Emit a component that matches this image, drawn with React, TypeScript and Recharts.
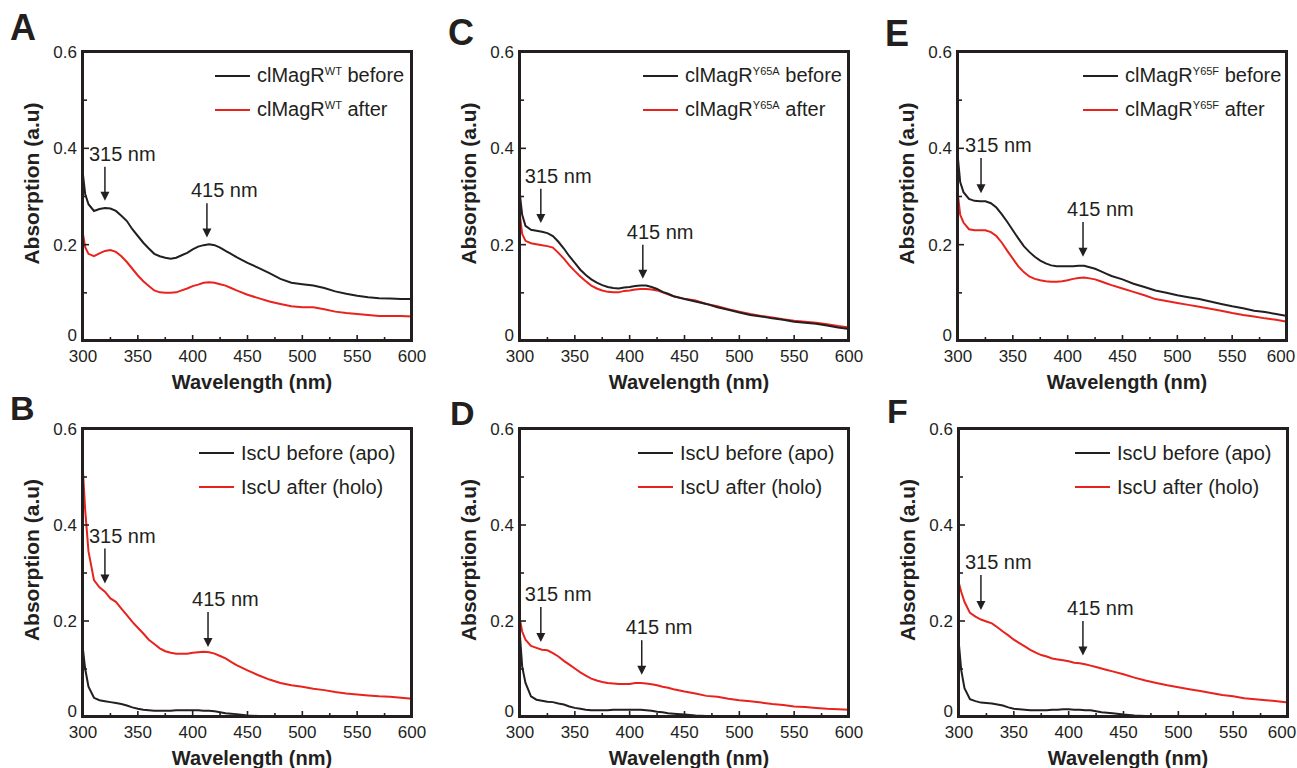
import React from 'react';
import { LineChart, Line, XAxis, YAxis, ReferenceLine } from 'recharts';

// ---------- data ----------
const WAVELENGTHS = [300, 302, 305, 310, 315, 320, 325, 330, 335, 340, 345, 350, 355, 360, 365, 370, 375, 380, 385, 390, 395, 400, 405, 410, 415, 420, 425, 430, 435, 440, 450, 460, 470, 480, 490, 500, 510, 520, 530, 540, 550, 560, 570, 580, 590, 600];

const A_BEFORE = [0.345, 0.305, 0.284, 0.270, 0.274, 0.276, 0.275, 0.270, 0.260, 0.249, 0.232, 0.218, 0.204, 0.192, 0.181, 0.176, 0.173, 0.171, 0.173, 0.178, 0.183, 0.190, 0.196, 0.199, 0.201, 0.199, 0.194, 0.187, 0.181, 0.174, 0.162, 0.152, 0.141, 0.129, 0.121, 0.118, 0.115, 0.110, 0.103, 0.098, 0.094, 0.091, 0.089, 0.088, 0.087, 0.087];
const A_AFTER = [0.222, 0.195, 0.181, 0.176, 0.182, 0.187, 0.189, 0.185, 0.176, 0.164, 0.150, 0.136, 0.124, 0.114, 0.105, 0.101, 0.100, 0.100, 0.101, 0.105, 0.109, 0.114, 0.117, 0.121, 0.122, 0.121, 0.118, 0.115, 0.110, 0.105, 0.096, 0.089, 0.082, 0.077, 0.072, 0.070, 0.070, 0.066, 0.061, 0.058, 0.056, 0.054, 0.052, 0.052, 0.052, 0.051];

const C_BEFORE = [0.302, 0.262, 0.239, 0.231, 0.229, 0.227, 0.224, 0.218, 0.206, 0.192, 0.176, 0.162, 0.148, 0.137, 0.128, 0.121, 0.116, 0.112, 0.110, 0.109, 0.111, 0.112, 0.114, 0.115, 0.115, 0.112, 0.108, 0.102, 0.098, 0.093, 0.087, 0.082, 0.077, 0.070, 0.065, 0.059, 0.054, 0.051, 0.047, 0.044, 0.040, 0.038, 0.036, 0.032, 0.028, 0.025];
const C_AFTER = [0.260, 0.222, 0.208, 0.203, 0.201, 0.199, 0.197, 0.194, 0.183, 0.171, 0.157, 0.145, 0.134, 0.124, 0.115, 0.109, 0.105, 0.102, 0.101, 0.101, 0.104, 0.105, 0.107, 0.108, 0.108, 0.107, 0.105, 0.101, 0.097, 0.093, 0.088, 0.084, 0.077, 0.072, 0.066, 0.061, 0.056, 0.052, 0.049, 0.045, 0.042, 0.040, 0.038, 0.035, 0.031, 0.028];

const E_BEFORE = [0.378, 0.330, 0.309, 0.295, 0.291, 0.290, 0.290, 0.286, 0.277, 0.263, 0.247, 0.230, 0.213, 0.197, 0.185, 0.175, 0.167, 0.161, 0.157, 0.155, 0.155, 0.155, 0.155, 0.156, 0.156, 0.153, 0.150, 0.145, 0.140, 0.135, 0.128, 0.119, 0.112, 0.105, 0.100, 0.095, 0.091, 0.087, 0.082, 0.077, 0.072, 0.068, 0.063, 0.060, 0.056, 0.052];
const E_AFTER = [0.302, 0.262, 0.246, 0.232, 0.230, 0.230, 0.230, 0.226, 0.218, 0.204, 0.187, 0.171, 0.155, 0.143, 0.134, 0.129, 0.126, 0.124, 0.123, 0.123, 0.124, 0.126, 0.129, 0.131, 0.132, 0.130, 0.128, 0.124, 0.120, 0.116, 0.109, 0.102, 0.095, 0.087, 0.083, 0.079, 0.075, 0.071, 0.067, 0.063, 0.058, 0.054, 0.051, 0.047, 0.044, 0.040];

const B_BEFORE = [0.140, 0.100, 0.063, 0.040, 0.035, 0.033, 0.031, 0.029, 0.027, 0.024, 0.020, 0.017, 0.015, 0.014, 0.013, 0.013, 0.013, 0.013, 0.014, 0.014, 0.014, 0.014, 0.014, 0.013, 0.013, 0.012, 0.010, 0.008, 0.007, 0.006, 0.003, 0.002, 0.001, 0.001, 0.001, 0.001, 0.001, 0.001, 0.001, 0.001, 0.001, 0.001, 0.001, 0.001, 0.001, 0.001];
const B_AFTER = [0.510, 0.431, 0.345, 0.285, 0.270, 0.261, 0.247, 0.240, 0.226, 0.212, 0.198, 0.186, 0.174, 0.161, 0.152, 0.143, 0.137, 0.134, 0.132, 0.132, 0.132, 0.134, 0.135, 0.136, 0.135, 0.132, 0.127, 0.122, 0.115, 0.108, 0.097, 0.087, 0.078, 0.071, 0.066, 0.063, 0.059, 0.056, 0.052, 0.049, 0.047, 0.045, 0.043, 0.042, 0.040, 0.038];

const D_BEFORE = [0.168, 0.105, 0.071, 0.043, 0.036, 0.034, 0.032, 0.031, 0.028, 0.026, 0.022, 0.019, 0.017, 0.015, 0.014, 0.014, 0.014, 0.014, 0.015, 0.015, 0.015, 0.015, 0.015, 0.015, 0.014, 0.013, 0.011, 0.010, 0.008, 0.007, 0.005, 0.003, 0.002, 0.002, 0.002, 0.002, 0.002, 0.002, 0.002, 0.002, 0.002, 0.002, 0.002, 0.002, 0.002, 0.002];
const D_AFTER = [0.202, 0.178, 0.161, 0.148, 0.144, 0.140, 0.139, 0.133, 0.126, 0.117, 0.109, 0.101, 0.093, 0.086, 0.080, 0.076, 0.073, 0.071, 0.070, 0.069, 0.069, 0.069, 0.071, 0.071, 0.070, 0.068, 0.066, 0.063, 0.061, 0.058, 0.053, 0.049, 0.044, 0.042, 0.038, 0.035, 0.033, 0.030, 0.027, 0.025, 0.022, 0.021, 0.019, 0.017, 0.016, 0.015];

const F_BEFORE = [0.150, 0.098, 0.060, 0.037, 0.033, 0.030, 0.029, 0.028, 0.026, 0.024, 0.020, 0.017, 0.016, 0.015, 0.014, 0.014, 0.014, 0.014, 0.015, 0.015, 0.016, 0.016, 0.015, 0.015, 0.014, 0.014, 0.012, 0.010, 0.009, 0.008, 0.005, 0.003, 0.002, 0.002, 0.002, 0.002, 0.002, 0.002, 0.002, 0.002, 0.002, 0.002, 0.002, 0.002, 0.002, 0.002];
const F_AFTER = [0.278, 0.261, 0.240, 0.217, 0.209, 0.203, 0.199, 0.195, 0.187, 0.178, 0.170, 0.161, 0.154, 0.147, 0.140, 0.134, 0.129, 0.126, 0.122, 0.120, 0.118, 0.116, 0.113, 0.112, 0.110, 0.107, 0.104, 0.101, 0.098, 0.095, 0.089, 0.082, 0.076, 0.071, 0.066, 0.062, 0.058, 0.054, 0.050, 0.046, 0.043, 0.039, 0.037, 0.035, 0.033, 0.030];

const X_TICKS = [300, 325, 350, 375, 400, 425, 450, 475, 500, 525, 550, 575, 600];
const Y_TICKS = [0, 0.1, 0.2, 0.3, 0.4, 0.5, 0.6];
const X_DOMAIN = [300, 600];
const Y_DOMAIN = [0, 0.6];

const A_ANN = [{ label: '315 nm', x: 320, tail: 0.362, tip: 0.291 }, { label: '415 nm', x: 413, tail: 0.286, tip: 0.215 }];
const C_ANN = [{ label: '315 nm', x: 319, tail: 0.316, tip: 0.245 }, { label: '415 nm', x: 412, tail: 0.200, tip: 0.129 }];
const E_ANN = [{ label: '315 nm', x: 321, tail: 0.380, tip: 0.307 }, { label: '415 nm', x: 414, tail: 0.247, tip: 0.175 }];
const B_ANN = [{ label: '315 nm', x: 320, tail: 0.351, tip: 0.278 }, { label: '415 nm', x: 414, tail: 0.219, tip: 0.146 }];
const D_ANN = [{ label: '315 nm', x: 319, tail: 0.229, tip: 0.156 }, { label: '415 nm', x: 411, tail: 0.160, tip: 0.088 }];
const F_ANN = [{ label: '315 nm', x: 320, tail: 0.296, tip: 0.223 }, { label: '415 nm', x: 413, tail: 0.200, tip: 0.128 }];

const LEG_WT = [{ main: 'clMagR', sup: 'WT', rest: ' before' }, { main: 'clMagR', sup: 'WT', rest: ' after' }];
const LEG_Y65A = [{ main: 'clMagR', sup: 'Y65A', rest: ' before' }, { main: 'clMagR', sup: 'Y65A', rest: ' after' }];
const LEG_Y65F = [{ main: 'clMagR', sup: 'Y65F', rest: ' before' }, { main: 'clMagR', sup: 'Y65F', rest: ' after' }];
const LEG_ISCU = [{ main: 'IscU before (apo)', sup: '', rest: '' }, { main: 'IscU after (holo)', sup: '', rest: '' }];

// ---------- style ----------
const INK = '#231f20';
const RED = '#e8231e';
const FONT = '"Liberation Sans", Arial, Helvetica, sans-serif';
const PLOT_W = 329;
const Y_AXIS_W = 75;
const TOP_M = 12;
const X_AXIS_H = 60;
const RIGHT_M = 22;

const PANELS = [
  { id: 'A', left: 83, top: 52, h: 289, before: A_BEFORE, after: A_AFTER, ann: A_ANN, legend: LEG_WT, legendX: 132, lastShift: 0, letter: { x: 10, y: 15, fs: 36 } },
  { id: 'C', left: 520, top: 52, h: 289, before: C_BEFORE, after: C_AFTER, ann: C_ANN, legend: LEG_Y65A, legendX: 123, lastShift: 0, letter: { x: 448, y: 20, fs: 36 } },
  { id: 'E', left: 958, top: 52, h: 289, before: E_BEFORE, after: E_AFTER, ann: E_ANN, legend: LEG_Y65F, legendX: 125, lastShift: -6, letter: { x: 885, y: 20.5, fs: 36 } },
  { id: 'B', left: 83, top: 429, h: 288, before: B_BEFORE, after: B_AFTER, ann: B_ANN, legend: LEG_ISCU, legendX: 116, lastShift: 0, letter: { x: 10, y: 395, fs: 34 } },
  { id: 'D', left: 520, top: 429, h: 288, before: D_BEFORE, after: D_AFTER, ann: D_ANN, legend: LEG_ISCU, legendX: 118, lastShift: 0, letter: { x: 450, y: 400, fs: 34 } },
  { id: 'F', left: 959, top: 429, h: 288, before: F_BEFORE, after: F_AFTER, ann: F_ANN, legend: LEG_ISCU, legendX: 116, lastShift: -6, letter: { x: 887, y: 398, fs: 34 } },
];

function Arrow(props: any) {
  const { x1, y1, x2, y2, text } = props;
  const head = 9;
  return (
    <g>
      <line x1={x1} y1={y1} x2={x2} y2={y2 - head + 1} stroke={INK} strokeWidth={1.5} />
      <polygon points={`${x2},${y2} ${x2 - 4.5},${y2 - head} ${x2 + 4.5},${y2 - head}`} fill={INK} />
      <text x={x1 - 16} y={y1 - 6} fontSize={20} fill={INK} fontFamily={FONT}>{text}</text>
    </g>
  );
}

function Panel({ p }: { p: any }) {
  const rows = WAVELENGTHS.map((wl, i) => ({ wl, before: p.before[i], after: p.after[i] }));
  const plotBottom = TOP_M + p.h;
  const plotLeft = Y_AXIS_W;

  const xTick = (props: any) => {
    const { x, payload } = props;
    const v = payload.value;
    const major = v % 50 === 0;
    const shift = v === 600 ? p.lastShift : 0;
    return (
      <g>
        <line x1={x} x2={x} y1={plotBottom} y2={plotBottom - (major ? 6 : 4)} stroke={INK} strokeWidth={1.6} />
        {major && (
          <text x={x + shift} y={plotBottom + 21} textAnchor="middle" fontSize={17} fill={INK} fontFamily={FONT}>{v}</text>
        )}
      </g>
    );
  };
  const yTick = (props: any) => {
    const { y, payload } = props;
    const v = payload.value;
    const major = Math.round(v * 10) % 2 === 0;
    return (
      <g>
        <line x1={plotLeft} x2={plotLeft + (major ? 6 : 4)} y1={y} y2={y} stroke={INK} strokeWidth={1.6} />
        {major && (
          <text x={plotLeft - 6} y={y + (v === 0 ? 0 : 6)} textAnchor="end" fontSize={17} fill={INK} fontFamily={FONT}>{v === 0 ? '0' : v.toFixed(1)}</text>
        )}
      </g>
    );
  };
  const xTitle = () => (
    <text x={plotLeft + PLOT_W / 2 + 4.5} y={plotBottom + 48} textAnchor="middle" fontSize={20} fontWeight="bold" fill={INK} fontFamily={FONT}>Wavelength (nm)</text>
  );
  const cx = plotLeft - 50;
  const cy = TOP_M + p.h / 2 - 13;
  const yTitle = () => (
    <text x={cx} y={cy} dy="0.27em" transform={`rotate(-90, ${cx}, ${cy})`} textAnchor="middle" fontSize={21} fontWeight="bold" fill={INK} fontFamily={FONT}>Absorption (a.u)</text>
  );

  return (
    <>
      <div style={{ position: 'absolute', left: p.left - Y_AXIS_W, top: p.top - TOP_M }}>
        <LineChart
          width={Y_AXIS_W + PLOT_W + RIGHT_M}
          height={TOP_M + p.h + X_AXIS_H}
          data={rows}
          margin={{ top: TOP_M, right: RIGHT_M, bottom: 0, left: 0 }}
        >
          <XAxis dataKey="wl" type="number" domain={X_DOMAIN} ticks={X_TICKS} interval={0} axisLine={false} tickLine={false} tickSize={0} tickMargin={0} height={X_AXIS_H} tick={xTick} label={xTitle} />
          <YAxis type="number" domain={Y_DOMAIN} ticks={Y_TICKS} interval={0} axisLine={false} tickLine={false} tickSize={0} tickMargin={0} width={Y_AXIS_W} tick={yTick} label={yTitle} />
          <Line type="linear" dataKey="after" stroke={RED} strokeWidth={2} dot={false} isAnimationActive={false} />
          <Line type="linear" dataKey="before" stroke={INK} strokeWidth={2} dot={false} isAnimationActive={false} />
          {p.ann.map((a: any) => (
            <ReferenceLine
              key={a.label}
              segment={[{ x: a.x, y: a.tail }, { x: a.x, y: a.tip }]}
              ifOverflow="visible"
              shape={(sp: any) => <Arrow {...sp} text={a.label} />}
            />
          ))}
        </LineChart>
      </div>
      {/* plot frame */}
      <div
        style={{
          position: 'absolute',
          left: p.left - 2,
          top: p.top - 2,
          width: PLOT_W + 3,
          height: p.h + 3,
          boxSizing: 'border-box',
          border: `3px solid ${INK}`,
          pointerEvents: 'none',
        }}
      />
      <div style={{ position: 'absolute', left: p.left + p.legendX, top: p.top + 24 - 17, fontFamily: FONT, fontSize: 20, color: INK }}>
        {p.legend.map((l: any, i: number) => (
          <div key={i} style={{ height: 34, display: 'flex', alignItems: 'center' }}>
            <div style={{ width: 35, height: 2, background: i === 0 ? INK : RED, marginRight: 7 }} />
            <span style={{ whiteSpace: 'nowrap', lineHeight: '20px' }}>
              {l.main}
              {l.sup && <span style={{ fontSize: 11, position: 'relative', top: -6.5 }}>{l.sup}</span>}
              {l.rest}
            </span>
          </div>
        ))}
      </div>
      <div style={{ position: 'absolute', left: p.letter.x, top: p.letter.y - 0.13 * p.letter.fs, fontFamily: FONT, fontWeight: 'bold', fontSize: p.letter.fs, lineHeight: 1, color: INK }}>
        {p.id}
      </div>
    </>
  );
}

export default function App() {
  return (
    <div style={{ position: 'absolute', left: 0, top: 0, width: 1297, height: 768, background: '#fff', overflow: 'hidden' }}>
      {PANELS.map((p) => (
        <Panel key={p.id} p={p} />
      ))}
    </div>
  );
}
